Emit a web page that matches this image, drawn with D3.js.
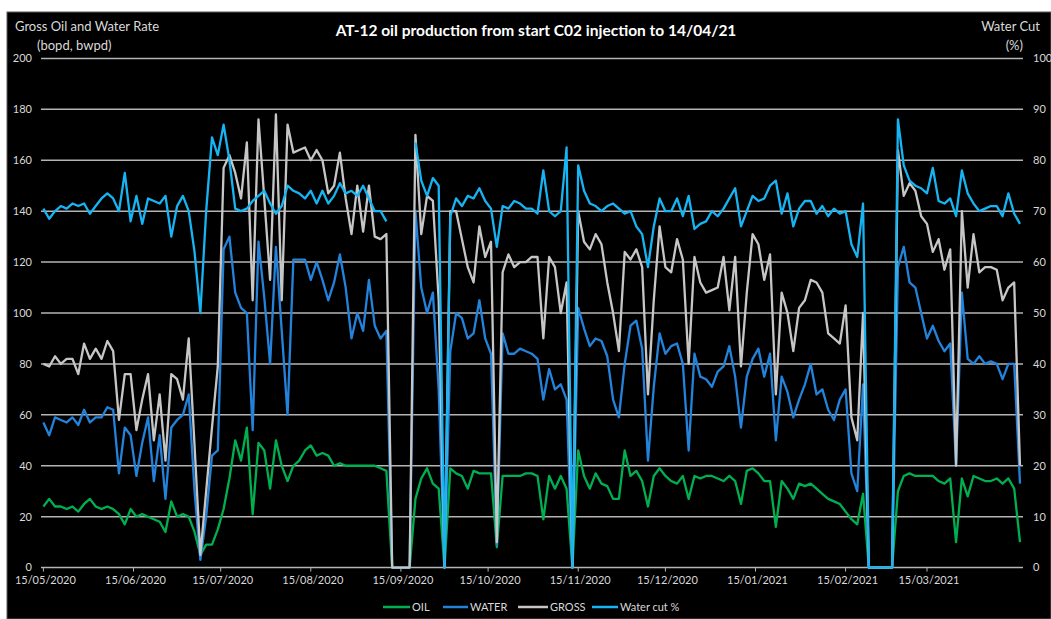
<!DOCTYPE html>
<html>
<head>
<meta charset="utf-8">
<script src="https://cdn.jsdelivr.net/npm/d3@7"></script>
<style>
  html, body { margin: 0; padding: 0; background: #ffffff; }
  svg { display: block; }
</style>
</head>
<body>
<svg id="chart" width="1051" height="619"></svg>
<script>
// AT-12 daily production, sampled every second day from 15/05/2020
const startDate = "2020-05-15";
const stepDays = 2;

// Oil rate (bopd)
const oil = [
  24,27,24,24,23,24,22,25,27,24,23,24,23,21,17,23,20,21,20,19,
  18,14,26,20,21,20,14,5,9,9,15,23,35,50,42,55,21,49,46,31,
  50,40,34,40,42,46,48,44,45,44,40,41,40,40,40,40,40,40,39,38,
  0,0,0,0,27,35,39,33,31,0,39,37,36,31,38,37,37,37,8,36,
  36,36,36,37,37,36,19,36,31,36,31,0,46,36,31,37,33,32,27,27,
  46,36,38,34,24,36,39,36,34,33,36,27,36,35,36,36,35,34,36,34,
  25,38,39,37,34,34,16,34,31,27,33,32,33,31,29,27,26,25,22,19,
  17,29,0,0,0,0,0,30,36,37,36,36,36,36,34,33,35,10,35,28,
  36,35,34,34,35,33,35,31,10
];

// Water rate (bwpd)
const water = [
  57,52,59,58,57,59,56,62,57,59,59,63,62,37,55,52,36,49,59,34,
  52,27,55,58,60,68,30,3,20,44,46,125,130,108,102,100,54,128,106,80,
  126,93,60,121,121,121,113,120,113,105,112,123,110,90,100,93,113,95,90,93,
  0,0,0,0,140,110,100,108,70,0,85,100,98,90,92,105,90,84,9,92,
  84,84,86,85,84,82,66,78,70,72,66,0,102,94,87,90,89,83,66,59,
  80,95,97,86,42,71,92,84,87,88,80,46,84,75,74,71,77,79,87,75,
  55,75,82,86,75,84,50,75,69,59,66,72,80,68,70,62,58,66,70,37,
  30,72,0,0,0,0,0,118,126,112,110,100,90,95,89,85,88,40,108,82,
  80,83,80,81,80,74,80,80,33
];

// Gross liquid rate (bopd + bwpd)
const gross = [
  80,79,83,80,82,82,76,88,82,86,82,89,85,58,76,76,54,66,76,50,
  68,42,76,74,66,90,48,5,30,55,79,157,162,155,145,167,105,176,145,113,
  178,105,174,163,164,165,160,164,160,147,150,163,145,131,150,132,150,130,129,131,
  0,0,0,0,170,131,146,144,105,0,140,140,129,118,112,134,122,128,10,116,
  123,118,120,120,122,122,90,122,118,100,112,0,140,128,125,131,127,112,100,85,
  124,121,125,118,68,105,134,118,116,129,121,80,122,112,108,109,110,122,101,122,
  79,108,131,127,113,123,68,108,100,85,102,105,113,112,108,92,90,88,103,59,
  50,100,0,0,0,0,0,164,146,151,148,138,135,124,129,117,125,40,140,110,
  131,116,118,118,117,105,110,112,40
];

// Water cut (%), no value while the well is shut in
const waterCut = [
  70.5,68.5,70,71,70.5,71.5,71,71.5,69.5,71,72.5,73.5,72.5,70,77.5,68,73,67.5,72.5,72,
  71.5,73,65,71,73,70,62,50,70,84.5,81,87,80,70.5,70,70.5,72,73,74,71.5,
  69.5,71,75,74,73.5,72.5,74,71.5,74,71.5,73,75.5,73.5,74,73,75,72.5,70,70,68,
  null,null,null,null,83.5,76,73,76.5,75,0,69,72.5,71,73,72.5,74.5,72,70.5,63,71,
  70.5,72,71.5,70.5,70.5,69.5,78,70,69,70,82.5,0,79,74,71.5,71,70,71,71.5,70.5,
  69.5,70,67,65.5,59,67,72.5,70,70,72.5,69,73,66.5,67.5,68,70,69,70.5,72.5,74.5,
  67,70,73,72,72.5,75,76,69.5,73.5,67,70.5,72,72,69.5,71,69,70.5,69.5,70,63.5,
  61,71.5,0,0,0,0,0,88,79,76,75,74.5,73.5,78.5,72,71.5,72.5,69,78,73.5,
  71.5,70,70.5,71,71,69,73.5,69.5,67.5
];

const xTickLabels = ["15/05/2020","15/06/2020","15/07/2020","15/08/2020","15/09/2020",
  "15/10/2020","15/11/2020","15/12/2020","15/01/2021","15/02/2021","15/03/2021"];
const leftTicks = [0,20,40,60,80,100,120,140,160,180,200];
const rightTicks = [0,10,20,30,40,50,60,70,80,90,100];
const axisEnd = "2021-04-16";

const seriesNames = ["OIL", "WATER", "GROSS", "Water cut %"];
const seriesColors = ["#00b050", "#2383db", "#c6c6c6", "#16b4f2"];

const titleText = "AT-12 oil production from start C02 injection to 14/04/21";
const leftTitle = ["Gross Oil and Water Rate", "(bopd, bwpd)"];
const rightTitle = ["Water Cut", "(%)"];

// ---------------------------------------------------------------------------
const svg = d3.select("#chart");
const W = 1051, H = 619;
const FONT = "Lato, 'Open Sans', 'DejaVu Sans', sans-serif";
const textCol = "#d9d9d9";

const parseISO = d3.timeParse("%Y-%m-%d");
const parseDMY = d3.timeParse("%d/%m/%Y");
const t0 = parseISO(startDate);
const dates = oil.map((_, i) => d3.timeDay.offset(t0, i * stepDays));

const plot = { left: 41, right: 1023, top: 58.4, bottom: 567.6 };

const x = d3.scaleTime()
  .domain([t0, parseISO(axisEnd)])
  .range([43.4, 1020]);
const yL = d3.scaleLinear().domain([0, 200]).range([plot.bottom, plot.top]);
const yR = d3.scaleLinear().domain([0, 100]).range([plot.bottom, plot.top]);

// panel background
svg.append("rect").attr("x", 7).attr("y", 12).attr("width", W - 7).attr("height", H - 12)
  .attr("fill", "#000000").attr("stroke", "#5a5a5a").attr("stroke-width", 1);

// horizontal gridlines
svg.append("g").selectAll("line").data(leftTicks).join("line")
  .attr("x1", plot.left).attr("x2", plot.right)
  .attr("y1", d => yL(d)).attr("y2", d => yL(d))
  .attr("stroke", "#b4b4b4").attr("stroke-width", 1.5);

// x tick marks
const xTickDates = xTickLabels.map(parseDMY);
svg.append("g").selectAll("line").data(xTickDates).join("line")
  .attr("x1", d => x(d)).attr("x2", d => x(d))
  .attr("y1", plot.bottom).attr("y2", plot.bottom + 4)
  .attr("stroke", "#b4b4b4").attr("stroke-width", 1);

// left axis labels
svg.append("g").selectAll("text").data(leftTicks).join("text")
  .attr("x", 32).attr("y", d => yL(d)).attr("dy", "0.35em")
  .attr("text-anchor", "end").attr("font-family", FONT).attr("font-size", 11)
  .attr("fill", textCol).text(d => d);

// right axis labels
svg.append("g").selectAll("text").data(rightTicks).join("text")
  .attr("x", 1033).attr("y", d => yR(d)).attr("dy", "0.35em")
  .attr("text-anchor", "start").attr("font-family", FONT).attr("font-size", 11)
  .attr("fill", textCol).text(d => d);

// date labels
svg.append("g").selectAll("text").data(xTickLabels).join("text")
  .attr("x", d => x(parseDMY(d)) + 2).attr("y", 580).attr("dy", "0.35em")
  .attr("text-anchor", "middle").attr("font-family", FONT).attr("font-size", 11)
  .attr("fill", textCol).text(d => d);

// titles
svg.append("text").attr("x", 536).attr("y", 31).attr("dy", "0.35em")
  .attr("text-anchor", "middle").attr("font-family", FONT).attr("font-weight", "bold")
  .attr("font-size", 15.5).attr("fill", "#ffffff").text(titleText);

svg.append("text").attr("x", 15).attr("y", 26).attr("dy", "0.35em")
  .attr("font-family", FONT).attr("font-size", 13).attr("fill", textCol).text(leftTitle[0]);
svg.append("text").attr("x", 37).attr("y", 45).attr("dy", "0.35em")
  .attr("font-family", FONT).attr("font-size", 13).attr("fill", textCol).text(leftTitle[1]);

svg.append("text").attr("x", 1040).attr("y", 26).attr("dy", "0.35em")
  .attr("text-anchor", "end").attr("font-family", FONT).attr("font-size", 13)
  .attr("fill", textCol).text(rightTitle[0]);
svg.append("text").attr("x", 1023).attr("y", 45).attr("dy", "0.35em")
  .attr("text-anchor", "end").attr("font-family", FONT).attr("font-size", 13)
  .attr("fill", textCol).text(rightTitle[1]);

// series lines
const series = [
  { values: oil, y: yL },
  { values: water, y: yL },
  { values: gross, y: yL },
  { values: waterCut, y: yR }
];

series.forEach((s, i) => {
  const pts = dates.map((d, k) => ({ date: d, v: s.values[k] }));
  const line = d3.line()
    .defined(p => p.v !== null)
    .x(p => x(p.date))
    .y(p => s.y(p.v));
  svg.append("path").datum(pts)
    .attr("d", line)
    .attr("fill", "none")
    .attr("stroke", seriesColors[i])
    .attr("stroke-width", 2.3)
    .attr("stroke-linejoin", "round");
});

// legend
const legendItems = [
  { x: 383, w: 27 },
  { x: 443, w: 25 },
  { x: 518, w: 30 },
  { x: 592, w: 26 }
];
const lg = svg.append("g");
seriesNames.forEach((name, i) => {
  const it = legendItems[i];
  lg.append("line").attr("x1", it.x).attr("x2", it.x + it.w)
    .attr("y1", 607).attr("y2", 607)
    .attr("stroke", seriesColors[i]).attr("stroke-width", 2.5);
  lg.append("text").attr("x", it.x + it.w + 2).attr("y", 607).attr("dy", "0.35em")
    .attr("font-family", FONT).attr("font-size", 11).attr("fill", textCol).text(name);
});
</script>
</body>
</html>
